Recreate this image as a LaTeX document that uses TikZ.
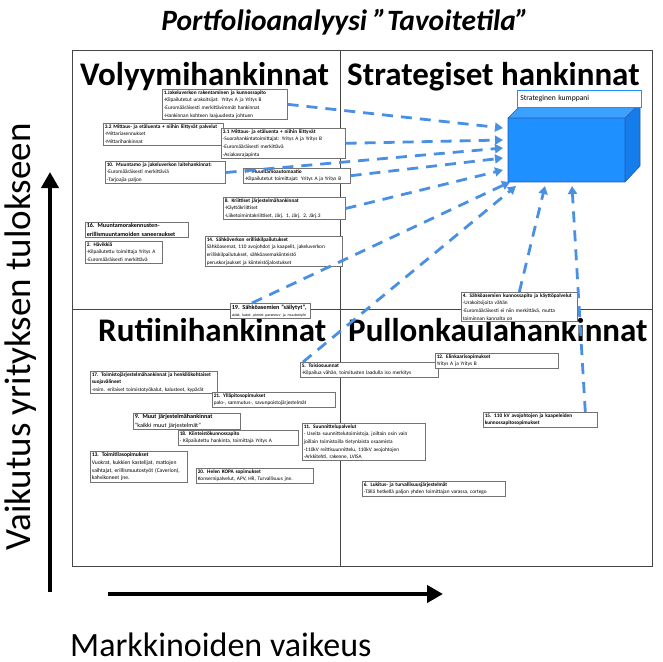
\documentclass[tikz,border=0pt]{standalone}
\usepackage{fontspec}
\setmainfont{Carlito}
\usetikzlibrary{arrows.meta}
\definecolor{linkblue}{RGB}{74,144,226}
\definecolor{cubefront}{RGB}{30,144,255}
\definecolor{cubetop}{RGB}{60,160,255}
\definecolor{cubeside}{RGB}{20,125,235}
\definecolor{cubeedge}{RGB}{40,90,170}
\definecolor{framegray}{RGB}{70,70,70}
\begin{document}
\begin{tikzpicture}[x=1pt,y=-1pt,
  card/.style={draw=black!55, line width=0.6pt, fill=white, anchor=north west,
    align=left, inner xsep=1.5pt, inner ysep=1.3pt,
    font=\fontsize{5.3}{7.6}\selectfont},
  bigcard/.style={card, font=\fontsize{6.1}{8.2}\selectfont},
  quadlabel/.style={anchor=base west, inner sep=0pt, font=\fontsize{33}{36}\selectfont\bfseries},
  link/.style={draw=linkblue, line width=2.8pt, dash pattern=on 11pt off 8pt,
    -{Triangle[length=8pt,width=9pt]}},
  axisarrow/.style={draw=black, line width=4.5pt, -{Triangle[length=16pt,width=17pt]}}]
\useasboundingbox (0,0) rectangle (662,662);

% title
\node[font=\fontsize{29.5}{32}\selectfont\bfseries\itshape, anchor=base] (title) at (345,30)
  {Portfolioanalyysi "Tavoitetila"};

% quadrant frame
\draw[framegray, line width=0.8pt] (72,50) rectangle (652,566);
\draw[framegray, line width=0.8pt] (340,50) -- (340,566);
\draw[framegray, line width=0.8pt] (72,309) -- (652,309);

% quadrant headings
\node[quadlabel] (q1) at (80,85) {Volyymihankinnat};
\node[quadlabel] (q2) at (347,85) {Strategiset hankinnat};
\node[quadlabel] (q3) at (98,341) {Rutiinihankinnat};
\node[quadlabel] (q4) at (348,341) {Pullonkaulahankinnat};

% axes
\coordinate (yfrom) at (50,592);
\coordinate (yto) at (50,172);
\draw[axisarrow] (yfrom) -- (yto);
\coordinate (xfrom) at (108,594);
\coordinate (xto) at (443,594);
\draw[axisarrow] (xfrom) -- (xto);
\node[inner sep=0pt, font=\fontsize{37}{40}\selectfont, rotate=90] (ylab) at (21,337)
  {Vaikutus yrityksen tulokseen};
\node[inner sep=0pt, font=\fontsize{34}{36}\selectfont, anchor=base west] (xlab) at (70,656)
  {Markkinoiden vaikeus};

% strategic partner cube
\coordinate (fa) at (508,118);
\coordinate (fb) at (625,118);
\coordinate (fc) at (625,182);
\coordinate (fd) at (508,182);
\coordinate (ta) at (523,103);
\coordinate (tb) at (640,103);
\coordinate (tc) at (640,166);
\fill[cubefront] (fa) -- (fb) -- (fc) -- (fd) -- cycle;
\fill[cubetop] (fa) -- (ta) -- (tb) -- (fb) -- cycle;
\fill[cubeside] (fb) -- (tb) -- (tc) -- (fc) -- cycle;
\draw[cubeedge, line width=0.6pt] (fa) -- (fb) -- (fc) -- (fd) -- cycle
  (fa) -- (ta) -- (tb) -- (fb) (tb) -- (tc) -- (fc);
\node[draw=cubefront, line width=0.8pt, fill=white, anchor=north west, minimum width=124pt,
  minimum height=17pt, inner xsep=3pt, align=left, text width=118pt,
  font=\fontsize{7.6}{9}\selectfont] (partner) at (517,90) {Strateginen kumppani};

% purchase category cards
\node[card, text width=122pt] (b1) at (162,89)
  {\textbf{1.Jakeluverkon rakentaminen ja kunnossapito}\\
   -Kilpailutetut urakoitsijat: Yritys A ja Yritys B\\
   -Euromääräisesti merkittävimmät hankinnat\\
   -Hankinnan kohteen laajuudesta johtuen};
\node[card, text width=117pt] (b32) at (103,123)
  {\textbf{3.2 Mittaus- ja etäluenta + niihin liittyvät palvelut}\\
   -Mittariasennukset\\
   -Mittarihankinnat};
\node[card, text width=117pt] (b10) at (105,161)
  {\textbf{10. Muuntamo ja jakeluverkon laitehankinnat:}\\
   -Euromääräisesti merkittäviä\\
   -Tarjoajia paljon};
\node[card, text width=121pt] (b31) at (221,128)
  {\textbf{3.1 Mittaus- ja etäluenta + niihin liittyvät}\\
   -Suorahankintatoimittajat: Yritys A ja Yritys B\\
   -Euromääräisesti merkittävä\\
   -Asiakasrajapinta};
\node[card, text width=104pt] (b7) at (243,168)
  {\textbf{7. Muuntamoautomaatio}\\
   -Kilpailutetut toimittajat: Yritys A ja Yritys B};
\node[card, text width=119pt] (b8) at (223,197)
  {\textbf{8. Kriittiset järjestelmähankinnat}\\
   -Käyttökriittiset\\
   -Liiketoimintakriittiset, Järj. 1, Järj. 2, Järj.3};
\node[bigcard, text width=100pt] (b16) at (85,222)
  {\textbf{16. Muuntamorakennusten-}\\
   \textbf{erillismuuntamoiden saneeraukset}};
\node[card, text width=74pt] (b2) at (85,241)
  {\textbf{2. Hävikkiä}\\
   -Kilpailutettu toimittaja Yritys A\\
   -Euromääräisesti merkittävä};
\node[card, text width=134pt] (b14) at (205,236)
  {\textbf{14. Sähköverkon erilliskilpailutukset}\\
   Sähköasemat, 110 avojohdot ja kaapelit, jakeluverkon\\
   erilliskilpailutukset, sähköasemakiinteistö\\
   peruskorjaukset ja kiinteistöjalostukset};
\node[card, text width=77pt] (b19) at (230,303)
  {{\fontsize{6.2}{8}\selectfont\textbf{19. Sähköasemien "säilytyt",}}\\
   {\fontsize{3.9}{6}\selectfont aidat, katot, pienet parannus- ja muutostyöt}};
\node[card, text width=113pt] (b4) at (461,292)
  {\textbf{4. Sähköasemien kunnossapito ja käyttöpalvelut}\\
   -Urakoitsijoita vähän\\
   -Euromääräisesti ei niin merkittävä, mutta\\
   toiminnan kannalta on};
\node[card, text width=124pt] (b17) at (90,371)
  {\textbf{17. Toimistojärjestelmähankinnat ja henkilökohtaiset}\\
   \textbf{suojavälineet}\\
   -esim. erilaiset toimistotyökalut, kalusteet, kypärät};
\node[card, text width=120pt] (b21) at (212,392)
  {\textbf{21. Ylläpitosopimukset}\\
   palo-, sammutus-, savunpoistojärjestelmät};
\node[bigcard, text width=104pt] (b9) at (133,413)
  {\textbf{9. Muut järjestelmähankinnat}\\
   "kaikki muut järjestelmät"};
\node[card, text width=117pt] (b18) at (178,430)
  {\textbf{18. Kiinteistökunnossapito}\\
   - Kilpailutettu hankinta, toimittaja Yritys A};
\node[card, font=\fontsize{5.6}{7.8}\selectfont, text width=94pt] (b13) at (90,451)
  {\textbf{13. Toimitilasopimukset}\\
   Vuokrat, kukkien kastelijat, mattojen\\
   vaihtajat, erillismuutostyöt (Caverion),\\
   kahvikoneet jne.};
\node[card, text width=114pt] (b20) at (196,468)
  {\textbf{20. Helen KOPA sopimukset}\\
   Konsernipalvelut, APV, HR, Turvallisuus jne.};
\node[card, text width=135pt] (b5) at (300,362)
  {\textbf{5. Toisiosuunnat}\\
   -Kilpailua vähän, toimitusten laadulla iso merkitys};
\node[card, text width=120pt] (b11) at (302,423)
  {\textbf{11. Suunnittelupalvelut}\\
   - Useita suunnittelutoimistoja, joiltain osin vain\\
   joillain toimistoilla tietynlaista osaamista\\
   -110kV reittisuunnittelu, 110kV avojohtojen\\
   -Arkkitehti, rakenne, LVISA};
\node[card, text width=140pt] (b6) at (362,481)
  {\textbf{6. Lukitus- ja turvallisuusjärjestelmät}\\
   -Tällä hetkellä paljon yhden toimittajan varassa, cortego};
\node[card, text width=120pt] (b12) at (435,353)
  {\textbf{12. Elinkaarisopimukset}\\
   Yritys A ja Yritys B};
\node[card, text width=111pt] (b15) at (483,412)
  {\textbf{15. 110 kV avojohtojen ja kaapeleiden}\\
   \textbf{kunnossapitosopimukset}};

% links towards the strategic partner
\coordinate (c1) at (503,128);
\coordinate (c2) at (503,140);
\coordinate (c3) at (503,148);
\coordinate (c4) at (503,158);
\coordinate (c5) at (503,170);
\coordinate (c6) at (510,182);
\coordinate (c7) at (516,186);
\coordinate (c8) at (545,186);
\coordinate (c9) at (572,186);
\draw[link] (b1.east) -- (c1);
\draw[link] (b31.east) -- (c2);
\draw[link] (b10.east) -- (c3);
\draw[link] (b7.east) -- (c4);
\draw[link] (b8.east) -- (c5);
\draw[link] (b19.north west) ++(22,0) coordinate (b19top) (b19top) -- (c6);
\draw[link] (b5.north west) ++(3,0) coordinate (b5top) (b5top) -- (c7);
\draw[link] (b4.north) -- (c8);
\draw[link] (b15.north) ++(45,0) coordinate (b15top) (b15top) -- (c9);
\end{tikzpicture}
\end{document}
